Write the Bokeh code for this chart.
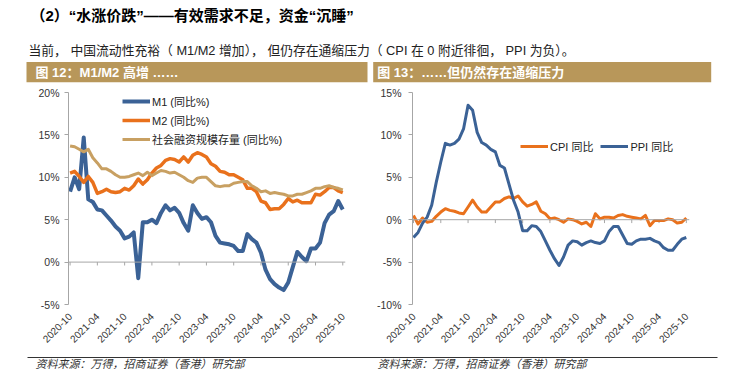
import math
import pandas as pd
from bokeh.plotting import figure
from bokeh.models import Range1d, FixedTicker, PrintfTickFormatter, Span, Legend, LegendItem
from bokeh.layouts import column, row
from bokeh.embed import file_html
from bokeh.resources import INLINE
from bokeh.core.properties import value

# ---------------- data ----------------
months = [p.strftime("%Y-%m") for p in pd.period_range("2020-10", "2025-10", freq="M")]
tick_labels = ["2020-10", "2021-04", "2021-10", "2022-04", "2022-10", "2023-04",
               "2023-10", "2024-04", "2024-10", "2025-04", "2025-10"]

m1 = [8.3, 10.0, 8.6,
      14.7, 7.4, 7.1, 6.2, 6.1, 5.5, 4.9, 4.2, 3.7, 2.8, 3.0, 3.5,
      -1.9, 4.7, 4.7, 5.0, 4.6, 5.8, 6.7, 6.1, 6.4, 5.8, 4.6, 3.7,
      6.7, 5.8, 5.1, 5.3, 4.7, 3.1, 2.3, 2.2, 2.1, 1.9, 1.3, 1.3,
      3.3, 2.7, 2.3, 1.1, -0.9, -2.0, -2.6, -3.0, -3.3, -2.4, -0.6, 1.2,
      0.6, 0.1, 1.6, 1.6, 2.3, 4.6, 5.6, 6.0, 7.2, 6.2]
m2 = [10.5, 10.7, 10.1,
      9.4, 10.1, 9.4, 8.1, 8.3, 8.6, 8.3, 8.2, 8.3, 8.7, 8.5, 9.0,
      9.8, 9.2, 9.7, 10.5, 11.1, 11.4, 12.0, 12.2, 12.1, 11.8, 12.4, 11.8,
      12.6, 12.9, 12.7, 12.4, 11.6, 11.3, 10.7, 10.6, 10.3, 10.3, 10.0, 9.7,
      8.7, 8.7, 8.3, 7.2, 7.0, 6.2, 6.3, 6.3, 6.8, 7.5, 7.1, 7.3,
      7.0, 7.0, 7.0, 8.0, 7.9, 8.3, 8.8, 8.8, 8.4, 8.2]
tsf = [13.7, 13.6, 13.3,
       13.0, 13.3, 12.3, 11.7, 11.0, 11.0, 10.7, 10.3, 10.0, 10.0, 10.1, 10.3,
       10.5, 10.2, 10.6, 10.2, 10.5, 10.8, 10.7, 10.5, 10.6, 10.3, 10.0, 9.6,
       9.4, 9.9, 10.0, 10.0, 9.5, 9.0, 8.9, 9.0, 9.0, 9.3, 9.4, 9.5,
       9.5, 9.0, 8.7, 8.3, 8.4, 8.1, 8.2, 8.1, 8.0, 7.8, 7.8, 8.0,
       8.0, 8.2, 8.4, 8.7, 8.7, 8.9, 9.0, 8.8, 8.7, 8.5]
cpi = [0.5, -0.5, 0.2,
       -0.3, -0.2, 0.4, 0.9, 1.3, 1.1, 1.0, 0.8, 0.7, 1.5, 2.3, 1.5,
       0.9, 0.9, 1.5, 2.1, 2.1, 2.5, 2.7, 2.5, 2.8, 2.1, 1.6, 1.8,
       2.1, 1.0, 0.7, 0.1, 0.2, 0.0, -0.3, 0.1, 0.0, -0.2, -0.5, -0.3,
       -0.8, 0.7, 0.1, 0.3, 0.3, 0.2, 0.5, 0.6, 0.4, 0.3, 0.2, 0.1,
       0.5, -0.7, -0.1, -0.1, -0.1, 0.1, 0.0, -0.4, -0.3, 0.2]
ppi = [-2.1, -1.5, -0.4,
       0.3, 1.7, 4.4, 6.8, 9.0, 8.8, 9.0, 9.5, 10.7, 13.5, 12.9, 10.3,
       9.1, 8.8, 8.3, 8.0, 6.4, 6.1, 4.2, 2.3, 0.9, -1.3, -1.3, -0.7,
       -0.8, -1.4, -2.5, -3.6, -4.6, -5.4, -4.4, -3.0, -2.5, -2.6, -3.0, -2.7,
       -2.5, -2.7, -2.8, -2.5, -1.4, -0.8, -0.8, -1.8, -2.8, -2.9, -2.5, -2.3,
       -2.3, -2.2, -2.5, -2.7, -3.3, -3.6, -3.6, -2.9, -2.3, -2.1]

left_yticks = [-5, 0, 5, 10, 15, 20]
right_yticks = [-10, -5, 0, 5, 10, 15]

title_text = "（2）“水涨价跌”——有效需求不足，资金“沉睡”"
para_text = "当前， 中国流动性充裕（ M1/M2 增加）， 但仍存在通缩压力（ CPI 在 0 附近徘徊， PPI 为负）。"
fig12_title = "图 12：M1/M2 高增 ……"
fig13_title = "图 13：……但仍然存在通缩压力"
source_text = "资料来源：万得，招商证券（香港）研究部"

# ---------------- style ----------------
FONT = "Liberation Sans, Noto Sans CJK SC"
BLUE = "#3B6296"
ORANGE = "#E9711C"
TAN = "#C8A062"
BAR = "#B8975A"
AXIS = "#A6A6A6"
LABEL = "#333333"

x = list(range(len(months)))
tick_pos = [months.index(t) for t in tick_labels]
overrides = {p: t for p, t in zip(tick_pos, tick_labels)}


def bare(w, h):
    f = figure(width=w, height=h, x_range=Range1d(0, w), y_range=Range1d(h, 0),
               output_backend="svg", toolbar_location=None,
               x_axis_location=None, y_axis_location=None,
               min_border=0, outline_line_color=None)
    f.grid.visible = False
    return f


# ---------------- header ----------------
hdr = bare(731, 84)
hdr.text(x=[30], y=[15], text=[title_text], text_font=value(FONT), text_font_size="15px",
         text_font_style="bold", text_baseline="middle", text_color="#000000")
hdr.text(x=[28], y=[49.5], text=[para_text], text_font=value(FONT), text_font_size="12.8px",
         text_baseline="middle", text_color="#222222")
hdr.quad(left=[26, 372.7], right=[367, 710.7], top=[61.5, 61.5], bottom=[81.7, 81.7],
         fill_color=BAR, line_color=None)
hdr.text(x=[35, 376.7], y=[71.6, 71.6], text=[fig12_title, fig13_title], text_font=value(FONT),
         text_font_size="13px", text_font_style="bold", text_baseline="middle",
         text_color="#FFFFFF")


def style_chart(p, yticks, xlab_standoff, ylab_standoff):
    p.grid.visible = False
    p.yaxis.ticker = FixedTicker(ticks=yticks)
    p.yaxis.formatter = PrintfTickFormatter(format="%d%%")
    p.yaxis.axis_line_color = AXIS
    p.yaxis.major_tick_line_color = AXIS
    p.yaxis.major_tick_in = 0
    p.yaxis.major_tick_out = 4
    p.yaxis.minor_tick_line_color = None
    p.yaxis.major_label_standoff = ylab_standoff
    p.yaxis.major_label_text_font = FONT
    p.yaxis.major_label_text_font_size = "10.5px"
    p.yaxis.major_label_text_color = LABEL

    p.xaxis.ticker = FixedTicker(ticks=tick_pos)
    p.xaxis.major_label_overrides = overrides
    p.xaxis.axis_line_color = None
    p.xaxis.major_tick_line_color = None
    p.xaxis.minor_tick_line_color = None
    p.xaxis.major_label_orientation = math.pi / 4
    p.xaxis.major_label_standoff = xlab_standoff
    p.xaxis.major_label_text_font = FONT
    p.xaxis.major_label_text_font_size = "10px"
    p.xaxis.major_label_text_color = LABEL

    p.add_layout(Span(location=0, dimension="width", line_color=AXIS, line_width=1))


# ---------------- left chart ----------------
lp = figure(width=370, height=265, x_range=Range1d(-0.35, 60.6), y_range=Range1d(-5, 20),
            output_backend="svg", toolbar_location=None, outline_line_color=None,
            min_border_left=68, min_border_right=25, min_border_top=8, min_border_bottom=42)
style_chart(lp, left_yticks, 4, 5)
lp.segment(x0=tick_pos, y0=[0] * len(tick_pos), x1=tick_pos, y1=[-0.4] * len(tick_pos),
           line_color=AXIS, line_width=1)
r1 = lp.line(x, m1, line_color=BLUE, line_width=4, line_join="round")
r2 = lp.line(x, m2, line_color=ORANGE, line_width=3.5, line_join="round")
r3 = lp.line(x, tsf, line_color=TAN, line_width=3, line_join="round")
leg1 = Legend(items=[LegendItem(label="M1 (同比%)", renderers=[r1]),
                     LegendItem(label="M2 (同比%)", renderers=[r2]),
                     LegendItem(label="社会融资规模存量 (同比%)", renderers=[r3])],
              location=(54, 157), orientation="vertical", padding=0, margin=0, spacing=3,
              glyph_width=28, glyph_height=14, label_height=14, label_standoff=2,
              label_text_font=FONT, label_text_font_size="11px", label_text_color="#222222",
              border_line_color=None, background_fill_alpha=0)
lp.add_layout(leg1)

# ---------------- right chart ----------------
rp = figure(width=361, height=265, x_range=Range1d(-0.22, 60.7), y_range=Range1d(-10, 15),
            output_backend="svg", toolbar_location=None, outline_line_color=None,
            min_border_left=42, min_border_right=42, min_border_top=5, min_border_bottom=42)
style_chart(rp, right_yticks, 4, 7)
rp.segment(x0=tick_pos, y0=[0] * len(tick_pos), x1=tick_pos, y1=[-0.4] * len(tick_pos),
           line_color=AXIS, line_width=1)
c1 = rp.line(x, cpi, line_color=ORANGE, line_width=3, line_join="round")
c2 = rp.line(x, ppi, line_color=BLUE, line_width=3, line_join="round")
leg2 = Legend(items=[LegendItem(label="CPI 同比", renderers=[c1]),
                     LegendItem(label="PPI 同比", renderers=[c2])],
              location=(108, 150), orientation="horizontal", padding=0, margin=0, spacing=7,
              glyph_width=28, glyph_height=14, label_height=14, label_standoff=2,
              label_text_font=FONT, label_text_font_size="11px", label_text_color="#222222",
              border_line_color=None, background_fill_alpha=0)
rp.add_layout(leg2)

# ---------------- footer ----------------
ftr = bare(731, 20)
ftr.segment(x0=[27], y0=[8], x1=[717], y1=[8], line_color="#333333", line_width=1)
ftr.text(x=[35, 377], y=[14, 14], text=[source_text, source_text], text_font=value(FONT),
         text_font_size="11px", text_font_style="italic", text_baseline="middle",
         text_color="#333333")

layout = column(hdr, row(lp, rp), ftr)
open("out.html", "w").write(file_html(layout, INLINE))
